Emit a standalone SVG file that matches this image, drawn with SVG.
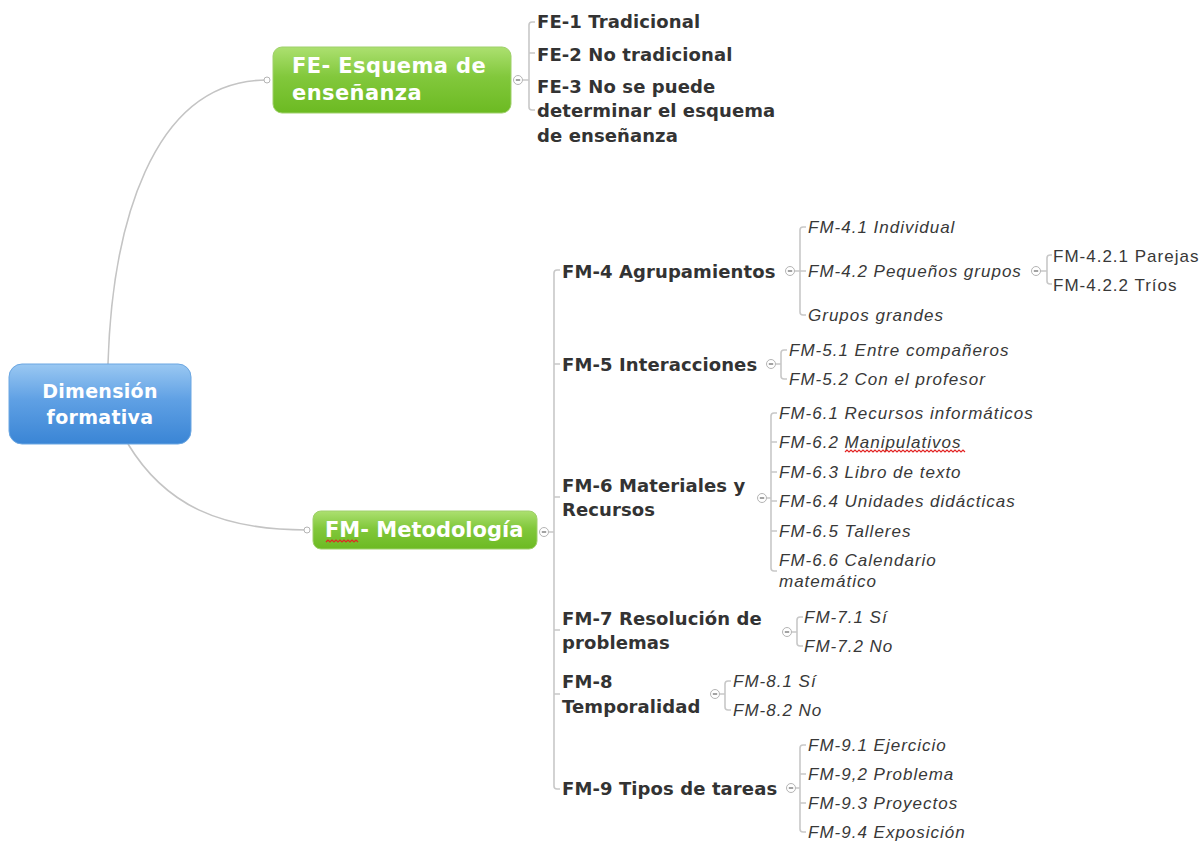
<svg xmlns="http://www.w3.org/2000/svg" width="1204" height="841" viewBox="0 0 1204 841">
  <defs>
    <linearGradient id="gBlue" x1="0" y1="0" x2="0" y2="1">
      <stop offset="0" stop-color="#9ac8f2"/>
      <stop offset="0.45" stop-color="#5fa0e4"/>
      <stop offset="1" stop-color="#3a85d5"/>
    </linearGradient>
    <linearGradient id="gGreen" x1="0" y1="0" x2="0" y2="1">
      <stop offset="0" stop-color="#ace070"/>
      <stop offset="0.45" stop-color="#82c83c"/>
      <stop offset="1" stop-color="#6cba22"/>
    </linearGradient>
    <g id="collapse">
      <circle r="4.5" fill="#fff" stroke="#b4b4b4" stroke-width="1"/>
      <line x1="-2.2" y1="0" x2="2.2" y2="0" stroke="#666" stroke-width="1.2"/>
    </g>
  </defs>
  <style>
    .branch { fill: none; stroke: #c4c4c4; stroke-width: 1.6; }
    .brk { fill: none; stroke: #c8c8c8; stroke-width: 1.6; }
    .main { font-family: "DejaVu Sans", Verdana, sans-serif; font-weight: bold; font-size: 18px; letter-spacing: 0.1px; fill: #333; }
    .leaf { font-family: "Liberation Sans", Arial, sans-serif; font-style: italic; font-size: 17px; letter-spacing: 1px; fill: #383838; }
    .plain { font-family: "Liberation Sans", Arial, sans-serif; font-size: 17px; letter-spacing: 1px; fill: #383838; }
    .ntext { font-family: "DejaVu Sans", Verdana, sans-serif; font-weight: bold; fill: #fff; }
    .squig { fill: none; stroke: #e22424; stroke-width: 1.2; }
  </style>
  <rect width="1204" height="841" fill="#fff"/>

  <!-- connectors -->
  <g id="connectors">
    <path class="branch" d="M108,364 C112,230 150,80 267,80"/>
    <path class="branch" d="M128,444 C165,505 220,530 307,530"/>
    <circle cx="267" cy="80" r="3" fill="#fff" stroke="#b4b4b4"/>
    <circle cx="307" cy="530" r="3" fill="#fff" stroke="#b4b4b4"/>

    <!-- FE children -->
    <path class="brk" d="M535,22 H532 Q529,22 529,25 V107 Q529,110 532,110 H535 M529,53 H535 M523,80 H529"/>
    <use href="#collapse" x="518" y="80"/>

    <!-- FM children -->
    <path class="brk" d="M560,270 H557 Q554,270 554,273 V786 Q554,789 557,789 H560 M554,364 H560 M554,497 H560 M554,630 H560 M554,694 H560 M549,532 H554"/>
    <use href="#collapse" x="544" y="532"/>

    <!-- FM-4 -->
    <path class="brk" d="M806,227 H803 Q800,227 800,230 V312 Q800,315 803,315 H806 M800,271 H806 M795,271 H800"/>
    <use href="#collapse" x="790" y="271"/>
    <!-- FM-4.2 -->
    <path class="brk" d="M1052,255 H1050 Q1047,255 1047,258 V281 Q1047,284 1050,284 H1052 M1041,271 H1047"/>
    <use href="#collapse" x="1036" y="271"/>

    <!-- FM-5 -->
    <path class="brk" d="M787,350 H784 Q781,350 781,353 V376 Q781,379 784,379 H787 M776,364 H781"/>
    <use href="#collapse" x="771" y="364"/>

    <!-- FM-6 -->
    <path class="brk" d="M777,413 H774 Q771,413 771,416 V568 Q771,571 774,571 H777 M771,442 H777 M771,472 H777 M771,501 H777 M771,531 H777 M767,498 H771"/>
    <use href="#collapse" x="762" y="498"/>

    <!-- FM-7 -->
    <path class="brk" d="M803,617 H800 Q797,617 797,620 V643 Q797,646 800,646 H803 M792,632 H797"/>
    <use href="#collapse" x="787" y="632"/>

    <!-- FM-8 -->
    <path class="brk" d="M731,681 H728 Q725,681 725,684 V707 Q725,710 728,710 H731 M720,694 H725"/>
    <use href="#collapse" x="715" y="694"/>

    <!-- FM-9 -->
    <path class="brk" d="M806,745 H803 Q800,745 800,748 V829 Q800,832 803,832 H806 M800,774 H806 M800,803 H806 M796,788 H800"/>
    <use href="#collapse" x="791" y="788"/>
  </g>

  <!-- root -->
  <g id="root">
    <rect x="9" y="364" width="182" height="80" rx="13" fill="url(#gBlue)" stroke="#6aa6e2" stroke-width="1"/>
    <text class="ntext" x="100" y="398" font-size="19" letter-spacing="0.3" text-anchor="middle">Dimensión</text>
    <text class="ntext" x="100" y="424" font-size="19" letter-spacing="0.3" text-anchor="middle">formativa</text>
  </g>

  <!-- FE branch -->
  <g id="fe">
    <rect x="273" y="47" width="238" height="66" rx="9" fill="url(#gGreen)" stroke="#9fd06a" stroke-width="1"/>
    <text class="ntext" x="292" y="73" font-size="21" letter-spacing="0.4">FE- Esquema de</text>
    <text class="ntext" x="292" y="100" font-size="21" letter-spacing="0.4">enseñanza</text>
  </g>
  <g id="fe-1"><text class="main" x="537" y="28">FE-1 Tradicional</text></g>
  <g id="fe-2"><text class="main" x="537" y="61">FE-2 No tradicional</text></g>
  <g id="fe-3">
    <text class="main" x="537" y="93">FE-3 No se puede</text>
    <text class="main" x="537" y="117">determinar el esquema</text>
    <text class="main" x="537" y="142">de enseñanza</text>
  </g>

  <!-- FM branch -->
  <g id="fm">
    <rect x="313" y="511" width="224" height="38" rx="8" fill="url(#gGreen)" stroke="#9fd06a" stroke-width="1"/>
    <text class="ntext" x="325" y="537" font-size="21">FM- Metodología</text>
    <path class="squig" d="M326,542 l2,-2 l2,2 l2,-2 l2,2 l2,-2 l2,2 l2,-2 l2,2 l2,-2 l2,2 l2,-2 l2,2 l2,-2 l2,2 l2,-2 l2,2"/>
  </g>

  <g id="fm-4"><text class="main" x="562" y="278">FM-4 Agrupamientos</text></g>
  <g id="fm-4-1"><text class="leaf" x="808" y="233">FM-4.1 Individual</text></g>
  <g id="fm-4-2"><text class="leaf" x="808" y="277">FM-4.2 Pequeños grupos</text></g>
  <g id="fm-4-3"><text class="leaf" x="808" y="321">Grupos grandes</text></g>
  <g id="fm-4-2-1"><text class="plain" x="1053" y="262">FM-4.2.1 Parejas</text></g>
  <g id="fm-4-2-2"><text class="plain" x="1053" y="291">FM-4.2.2 Tríos</text></g>

  <g id="fm-5"><text class="main" x="562" y="371">FM-5 Interacciones</text></g>
  <g id="fm-5-1"><text class="leaf" x="789" y="356">FM-5.1 Entre compañeros</text></g>
  <g id="fm-5-2"><text class="leaf" x="789" y="385">FM-5.2 Con el profesor</text></g>

  <g id="fm-6">
    <text class="main" x="562" y="492">FM-6 Materiales y</text>
    <text class="main" x="562" y="516">Recursos</text>
  </g>
  <g id="fm-6-1"><text class="leaf" x="779" y="419">FM-6.1 Recursos informáticos</text></g>
  <g id="fm-6-2">
    <text class="leaf" x="779" y="448">FM-6.2 Manipulativos</text>
    <path class="squig" d="M845,452 l2,-2 l2,2 l2,-2 l2,2 l2,-2 l2,2 l2,-2 l2,2 l2,-2 l2,2 l2,-2 l2,2 l2,-2 l2,2 l2,-2 l2,2 l2,-2 l2,2 l2,-2 l2,2 l2,-2 l2,2 l2,-2 l2,2 l2,-2 l2,2 l2,-2 l2,2 l2,-2 l2,2 l2,-2 l2,2 l2,-2 l2,2 l2,-2 l2,2 l2,-2 l2,2 l2,-2 l2,2 l2,-2 l2,2 l2,-2 l2,2 l2,-2 l2,2 l2,-2 l2,2 l2,-2 l2,2 l2,-2 l2,2 l2,-2 l2,2 l2,-2 l2,2 l2,-2 l2,2 l2,-2 l2,2"/>
  </g>
  <g id="fm-6-3"><text class="leaf" x="779" y="478">FM-6.3 Libro de texto</text></g>
  <g id="fm-6-4"><text class="leaf" x="779" y="507">FM-6.4 Unidades didácticas</text></g>
  <g id="fm-6-5"><text class="leaf" x="779" y="537">FM-6.5 Talleres</text></g>
  <g id="fm-6-6">
    <text class="leaf" x="779" y="566">FM-6.6 Calendario</text>
    <text class="leaf" x="779" y="587">matemático</text>
  </g>

  <g id="fm-7">
    <text class="main" x="562" y="625">FM-7 Resolución de</text>
    <text class="main" x="562" y="649">problemas</text>
  </g>
  <g id="fm-7-1"><text class="leaf" x="804" y="623">FM-7.1 Sí</text></g>
  <g id="fm-7-2"><text class="leaf" x="804" y="652">FM-7.2 No</text></g>

  <g id="fm-8">
    <text class="main" x="562" y="688">FM-8</text>
    <text class="main" x="562" y="713">Temporalidad</text>
  </g>
  <g id="fm-8-1"><text class="leaf" x="733" y="687">FM-8.1 Sí</text></g>
  <g id="fm-8-2"><text class="leaf" x="733" y="716">FM-8.2 No</text></g>

  <g id="fm-9"><text class="main" x="562" y="795">FM-9 Tipos de tareas</text></g>
  <g id="fm-9-1"><text class="leaf" x="808" y="751">FM-9.1 Ejercicio</text></g>
  <g id="fm-9-2"><text class="leaf" x="808" y="780">FM-9,2 Problema</text></g>
  <g id="fm-9-3"><text class="leaf" x="808" y="809">FM-9.3 Proyectos</text></g>
  <g id="fm-9-4"><text class="leaf" x="808" y="838">FM-9.4 Exposición</text></g>
</svg>
